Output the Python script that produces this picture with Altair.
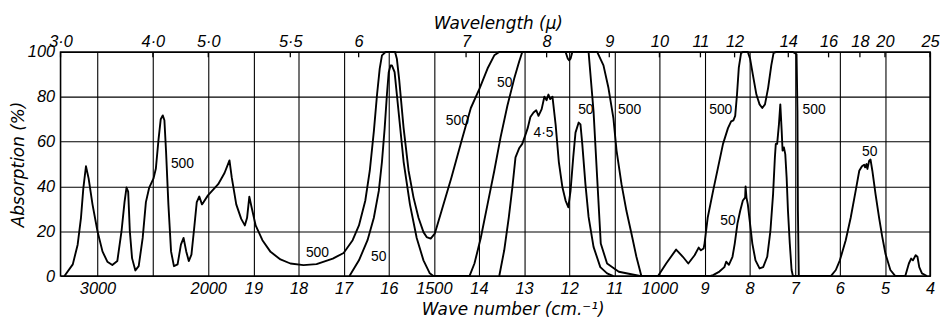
import altair as alt
import pandas as pd

# ---------------- data (wave number cm-1, absorption %) ----------------
c500_wn = [3298, 3223, 3179, 3149, 3128, 3104, 3080, 3045, 3000, 2955, 2911, 2866, 2821, 2783, 2756, 2738, 2723, 2708, 2688, 2658,
           2628, 2592, 2563, 2533, 2494, 2473, 2449, 2429, 2411, 2396, 2381, 2360, 2336, 2310, 2277, 2247, 2223, 2199, 2176, 2152,
           2128, 2104, 2081, 2057, 2042, 2003,
           1978, 1964, 1953, 1948, 1938, 1927, 1919, 1914, 1909, 1904, 1895, 1880, 1862, 1840, 1818, 1789, 1760, 1724, 1700, 1680,
           1666, 1652, 1642, 1633, 1626, 1620, 1615, 1607, 1586,
           1582, 1577, 1567, 1556, 1545, 1534, 1523, 1516, 1507, 1498, 1483, 1461, 1439, 1418, 1399, 1381, 1366, 1355, 1138,
           1124, 1113, 1102, 1095, 1084, 1073, 1062, 1051, 1040, 1003, 985, 963, 948, 936, 922, 913, 908, 902, 900, 893,
           881, 870, 859, 848, 841, 836, 832, 828, 824, 819, 815, 804, 799, 793, 785, 778, 772, 766, 759, 752,
           747, 741, 704, 696, 694, 693, 691]
c500_ab = [0, 5.2, 14, 26, 39, 49, 43.6, 32, 20, 11, 6.4, 4.9, 6.7, 20, 33, 39.5, 37.7, 20, 8, 2.5,
           4.4, 17, 33, 39.5, 43.6, 48, 61, 70, 71.7, 69.5, 55.5, 32, 11, 4.4, 5.2, 14, 17, 11, 6.7, 9.6,
           21, 33, 35.5, 32, 33, 36,
           41, 46, 51.6, 44, 32, 25.5, 22.6, 26, 35.4, 30.7, 22.6, 16, 10.8, 7.4, 5.6, 4.9, 5.3, 7.8, 10.3, 16,
           22.6, 33.6, 47, 64.6, 80.8, 92.6, 98.5, 100, 100,
           97, 88, 66, 47, 35, 26, 19.6, 17.4, 16.7, 18.9, 29, 44, 60, 75, 83.5, 92.6, 98.5, 100, 100,
           94, 84, 70.5, 56, 41, 29, 19, 8.6, 0, 0, 5.6, 11.8, 8.6, 5.6, 9.3, 12.7, 11.5, 12.3, 14.5, 26,
           38, 48.5, 59, 66, 69, 69.5, 71.5, 81, 93, 99.5, 100, 100, 97, 90, 81, 76.6, 75, 76.6, 84, 94,
           99.5, 100, 100, 99, 73.7, 29, 0]

c50_wn = [1687, 1666, 1647, 1633, 1622, 1615, 1609, 1604, 1600, 1596, 1593, 1587, 1578, 1567, 1553, 1538, 1523, 1509, 1501, 1421,
          1410, 1396, 1381, 1366, 1352, 1337, 1322, 1311, 1304, 1208, 1203, 1200, 1197, 1193, 1157, 1146, 1138, 1130, 1116, 1090,
          1043, 889, 881, 867, 856, 852, 846, 838, 833, 827, 821, 815, 810, 809, 807, 804, 800, 794, 787, 778,
          770, 761, 754, 748, 744, 742, 739, 735, 732, 729, 727, 724, 721, 718, 715, 711, 707, 704, 620, 609,
          600, 587, 576, 565, 557, 551, 546, 544, 541, 539, 535, 532, 528, 521, 513, 506, 499, 488, 477, 455,
          447, 442, 438, 432, 428, 424, 418, 407]
c50_ab = [0, 7, 16, 26, 38, 51, 66, 81, 91, 94, 94, 91, 73, 51, 32, 17, 7, 1.2, 0, 0,
          5.6, 17, 32, 47, 62, 76, 88, 95.6, 100, 100, 97, 96.3, 97, 100, 100, 73.5, 44, 14.5, 5.6, 1.9,
          0, 0, 0.4, 2, 4, 6.4, 5, 8.6, 14.5, 23.4, 29, 33.7, 35, 40, 35, 32, 25, 14.5, 7, 3.4,
          4, 8.6, 20, 36.7, 53, 59, 59, 67.8, 76.6, 65, 56, 57.4, 54.4, 44, 29, 14.5, 2.7, 0, 0, 2.7,
          7, 16, 26, 38, 47, 49, 49.7, 48.5, 50, 47.8, 51.5, 52, 47, 36.7, 26, 17.5, 10, 2.7, 0, 0,
          5.6, 7.8, 7, 9.3, 8.6, 4, 1.2, 0]

c45_wn = [1355, 1344, 1334, 1326, 1319, 1311, 1304, 1297, 1292, 1286, 1279, 1273, 1268, 1261, 1255, 1250, 1246, 1242, 1237,
          1230, 1223, 1215, 1208, 1202, 1197, 1191, 1186, 1179, 1175, 1171, 1164, 1157, 1146, 1131, 1116, 1102]
c45_ab = [0, 11.5, 26, 39.5, 53, 57, 59, 63, 66, 71, 73, 74, 71.5, 74.5, 80, 78.5, 81, 79, 80,
          67.5, 51, 39.6, 33.7, 30.7, 38, 53, 64, 68.5, 67.7, 59, 41, 26.4, 13, 4, 1.2, 0]

label_text = ["500", "500", "50", "500", "50", "4·5", "50", "500", "500", "50", "500", "50"]
label_wn = [2233, 1758, 1622, 1448, 1343, 1257, 1163, 1066, 864, 848, 657, 534]
label_ab = [50, 10.4, 8.6, 69, 86, 64, 74, 74, 74, 24.5, 74, 55.5]

bottom_ticks = [3000, 2500, 2000, 1900, 1800, 1700, 1600, 1500, 1400, 1300, 1200, 1100, 1000, 900, 800, 700, 600, 500, 400]
bottom_labels = ["3000", "", "2000", "19", "18", "17", "16", "1500", "14", "13", "12", "11", "1000", "9", "8", "7", "6", "5", "4"]
top_mu = [3.0, 4.0, 5.0, 5.5, 6, 7, 8, 9, 10, 11, 12, 14, 16, 18, 20, 25]
top_labels = ["3·0", "4·0", "5·0", "5·5", "6", "7", "8", "9", "10", "11", "12", "14", "16", "18", "20", "25"]
y_ticks = [0, 20, 40, 60, 80, 100]

# ---------------- tables ----------------
rows = []
for name, wn, ab in [("500", c500_wn, c500_ab), ("50", c50_wn, c50_ab), ("4.5", c45_wn, c45_ab)]:
    assert len(wn) == len(ab), name
    for i, (w, a) in enumerate(zip(wn, ab)):
        rows.append({"curve": name, "wn": w, "pct": a, "order": i})
curves = pd.DataFrame(rows)
labels = pd.DataFrame({"wn": label_wn, "pct": label_ab, "text": label_text})
top_wn = [round(1e4 / m, 3) for m in top_mu]
top_df = pd.DataFrame({"wn": top_wn, "pct": [100] * len(top_wn), "pct2": [97.6] * len(top_wn)})

bottom_expr = " : ".join(f"datum.value == {v} ? '{t}'" for v, t in zip(bottom_ticks, bottom_labels)) + " : ''"
top_expr = " : ".join(f"abs(datum.value - {v}) < 0.5 ? '{t}'" for v, t in zip(top_wn, top_labels)) + " : ''"

xscale = alt.Scale(domain=[3333.333, 2000, 400], range=[0, 149, 877], zero=False, nice=False)
yscale = alt.Scale(domain=[0, 100], zero=False, nice=False)

LBL = dict(labelFont="Liberation Sans", labelFontStyle="italic", labelFontSize=16.5, labelColor="black",
           labelFlush=False, labelOverlap=False)
TTL = dict(titleFont="DejaVu Sans", titleFontStyle="italic", titleFontWeight="normal", titleFontSize=17,
           titleColor="black")

bottom_axis = alt.Axis(values=bottom_ticks, labelExpr=bottom_expr, grid=True, gridColor="black", gridWidth=1.1,
                       gridOpacity=1, ticks=False, tickSize=0, domain=False, labelPadding=5,
                       title="Wave number (cm.⁻¹)", titleX=456, titleY=39, titleBaseline="alphabetic",
                       titleAlign="center", **LBL, **TTL)
top_axis = alt.Axis(orient="top", values=top_wn, labelExpr=top_expr, grid=False, ticks=False, tickSize=0,
                    domain=False, labelPadding=3, title="Wavelength (μ)", titleX=441, titleY=-24,
                    titleBaseline="alphabetic", titleAlign="center", **LBL, **TTL)
y_axis = alt.Axis(orient="left", values=y_ticks, grid=True, gridColor="black", gridWidth=1.1, gridOpacity=1,
                  ticks=False, tickSize=0, domain=False, labelPadding=6,
                  title="Absorption (%)", titleX=-37, titleY=113, titleAngle=270, titleBaseline="alphabetic",
                  titleAlign="center", **LBL, **TTL)

Y = alt.Y("pct:Q", scale=yscale, axis=y_axis)

lines = alt.Chart(curves).mark_line(color="black", strokeWidth=1.9, strokeJoin="round").encode(
    x=alt.X("wn:Q", scale=xscale, axis=bottom_axis),
    y=Y,
    detail="curve:N",
    order="order:Q",
)

text = alt.Chart(labels).mark_text(font="Liberation Sans", fontSize=14, color="black", align="center",
                                   baseline="middle").encode(
    x=alt.X("wn:Q", scale=xscale, axis=None),
    y=Y,
    text="text:N",
)

top_ticks = alt.Chart(top_df).mark_rule(color="black", strokeWidth=1.3).encode(
    x=alt.X("wn:Q", scale=xscale, axis=top_axis),
    y=Y,
    y2="pct2:Q",
)

chart = alt.layer(lines, text, top_ticks).resolve_axis(x="independent").properties(
    width=877, height=226,
    background="white",
    autosize=alt.AutoSizeParams(type="none"),
    padding={"left": 53, "top": 43, "right": 10, "bottom": 45},
).configure_view(stroke="black", strokeWidth=1.6)

chart.save("out.html", embed_options={"renderer": "svg", "actions": False})
